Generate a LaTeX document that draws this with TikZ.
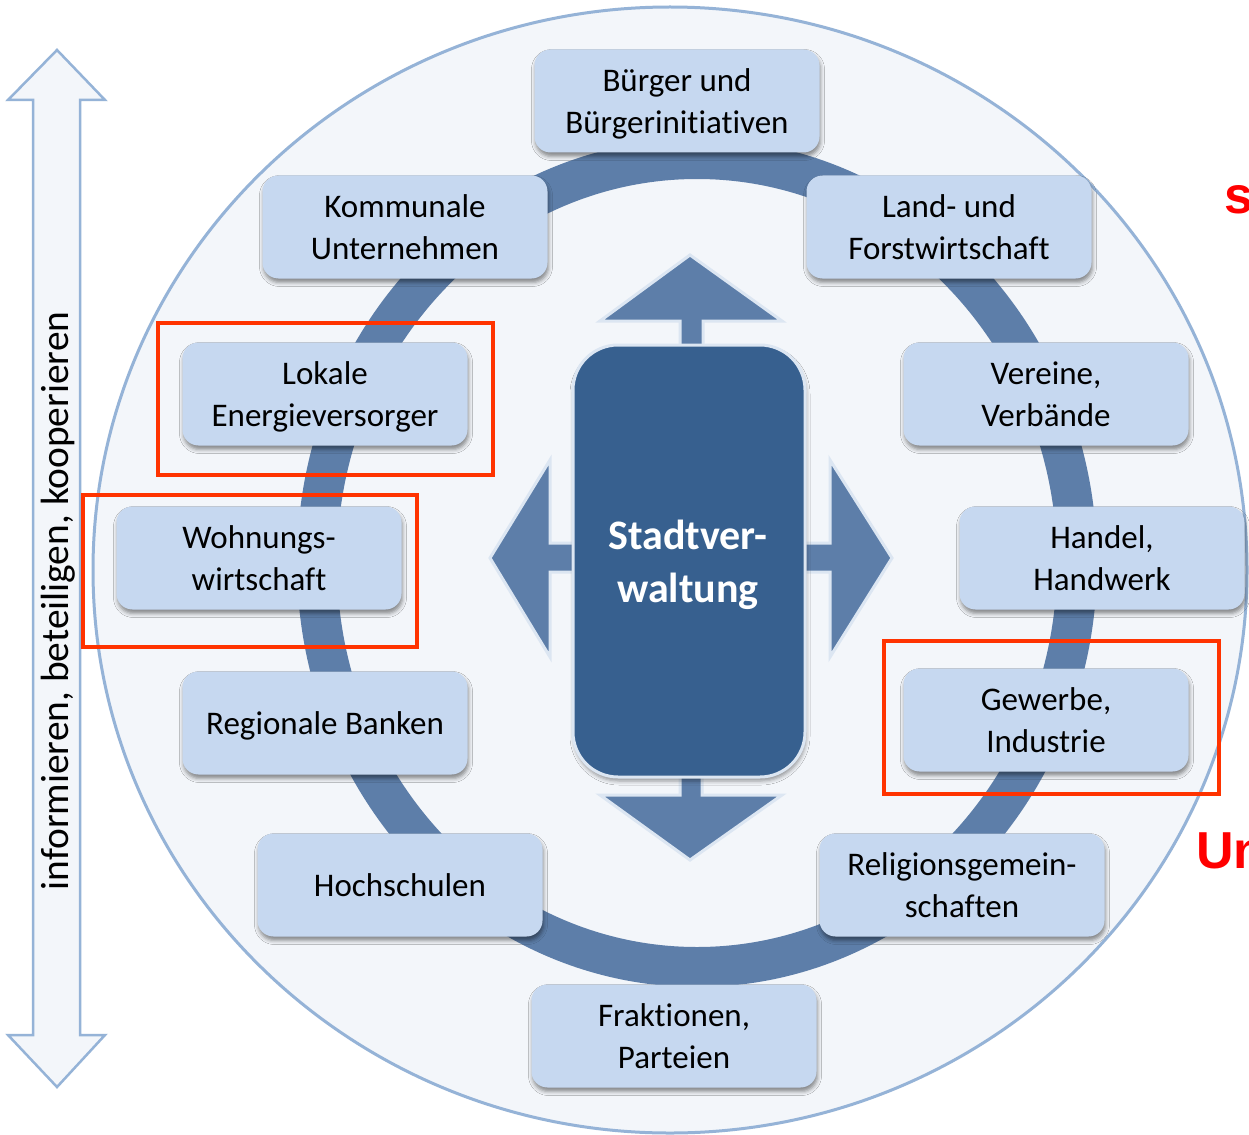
\documentclass[tikz,border=0pt]{standalone}
\usepackage{fontspec}
\setmainfont{Carlito}[Ligatures=NoCommon, Contextuals=NoAlternate]
\newfontfamily\redfont{Liberation Sans}
\usetikzlibrary{shadows.blur}
\definecolor{circfill}{HTML}{F3F6FA}
\definecolor{circline}{HTML}{95B3D7}
\definecolor{ringblue}{HTML}{5D7EA9}
\definecolor{boxfill}{HTML}{C6D8F0}
\definecolor{centerfill}{HTML}{37608F}
\definecolor{edgelight}{HTML}{DCE6F2}
\definecolor{markred}{HTML}{FF3300}
\newcommand\actortext[1]{\raisebox{-3.5pt}[\height][\depth]{\begin{tabular}{@{}c@{}}#1\end{tabular}}}
\begin{document}
\begin{tikzpicture}[x=1pt,y=-1pt,
  actor/.style={fill=boxfill, rounded corners=16pt, minimum width=285pt, minimum height=103pt,
    inner sep=0pt, font=\fontsize{33pt}{42pt}\selectfont,
    blur shadow={shadow xshift=1pt, shadow yshift=-4pt, shadow blur radius=4pt, shadow opacity=45}},
  redframe/.style={draw=markred, line width=4pt},
  bigarrow/.style={fill=ringblue, draw=edgelight, line width=3pt, line join=miter},
  redlabel/.style={text=red, font=\redfont\bfseries\fontsize{52pt}{60pt}\selectfont, inner sep=0pt, anchor=base west}]
\path[use as bounding box] (0,0) rectangle (1249,1134);
\clip (0,0) rectangle (1249,1134);
\fill[white] (0,0) rectangle (1249,1134);
% big background circle
\draw[circline, fill=circfill, line width=3pt] (670,570) ellipse [x radius=577, y radius=563];
% left double arrow
\draw[circline, fill=circfill, line width=2.5pt, line join=miter]
  (57,50) -- (105,100) -- (80,100) -- (80,1035) -- (105,1035) -- (57,1087) -- (8,1035) -- (33,1035) -- (33,100) -- (8,100) -- cycle;
\node[rotate=90, anchor=base, inner sep=0pt, font=\fontsize{39.4pt}{44pt}\selectfont] (motto) at (68,601) {informieren, beteiligen, kooperieren};
% ring
\draw[ringblue, line width=40pt] (697,563) ellipse [x radius=380, y radius=404];
% arrows
\draw[bigarrow] (600,321) -- (690,255) -- (782,321) -- (703,321) -- (703,360) -- (680,360) -- (680,321) -- cycle;
\draw[bigarrow] (600,795) -- (690,860) -- (782,795) -- (702,795) -- (702,765) -- (680,765) -- (680,795) -- cycle;
\draw[bigarrow] (550,460) -- (490,558) -- (550,657) -- (550,572) -- (585,572) -- (585,543) -- (550,543) -- cycle;
\draw[bigarrow] (830,460) -- (892,558) -- (830,657) -- (830,572) -- (795,572) -- (795,543) -- (830,543) -- cycle;
% center
\node[draw=edgelight, line width=3pt, fill=centerfill, rounded corners=45pt, minimum width=232pt, minimum height=432pt,
  blur shadow={shadow xshift=1pt, shadow yshift=-4pt, shadow blur radius=4pt, shadow opacity=40}] (stadt) at (689,561) {};
\node[text=white, align=center, inner sep=0pt, font=\bfseries\fontsize{42pt}{53pt}\selectfont] (stadttext) at (688,565) {Stadtver-\\waltung};
% actors
\node[actor] (buerger) at (677,101) {\actortext{Bürger und\\Bürgerinitiativen}};
\node[actor] (kommunal) at (405,227) {\actortext{Kommunale\\Unternehmen}};
\node[actor] (land) at (949,227) {\actortext{Land- und\\Forstwirtschaft}};
\node[actor] (energie) at (325,394) {\actortext{Lokale\\Energieversorger}};
\node[actor] (vereine) at (1046,394) {\actortext{Vereine,\\Verbände}};
\node[actor] (wohnung) at (259,558) {\actortext{Wohnungs-\\wirtschaft}};
\node[actor] (handel) at (1102,558) {\actortext{Handel,\\Handwerk}};
\node[actor] (banken) at (325,723) {\actortext{Regionale Banken}};
\node[actor] (gewerbe) at (1046,720) {\actortext{Gewerbe,\\Industrie}};
\node[actor] (hoch) at (400,885) {\actortext{Hochschulen}};
\node[actor] (relig) at (962,885) {\actortext{Religionsgemein-\\schaften}};
\node[actor] (frakt) at (674,1036) {\actortext{Fraktionen,\\Parteien}};
% red highlight frames
\draw[redframe] (158,323) rectangle (493,475);
\draw[redframe] (83,495) rectangle (417,647);
\draw[redframe] (884,641) rectangle (1219,794);
% clipped red labels
\node[redlabel] (redS) at (1224,213) {s};
\node[redlabel] (redU) at (1196,868) {Un};
\end{tikzpicture}
\end{document}
